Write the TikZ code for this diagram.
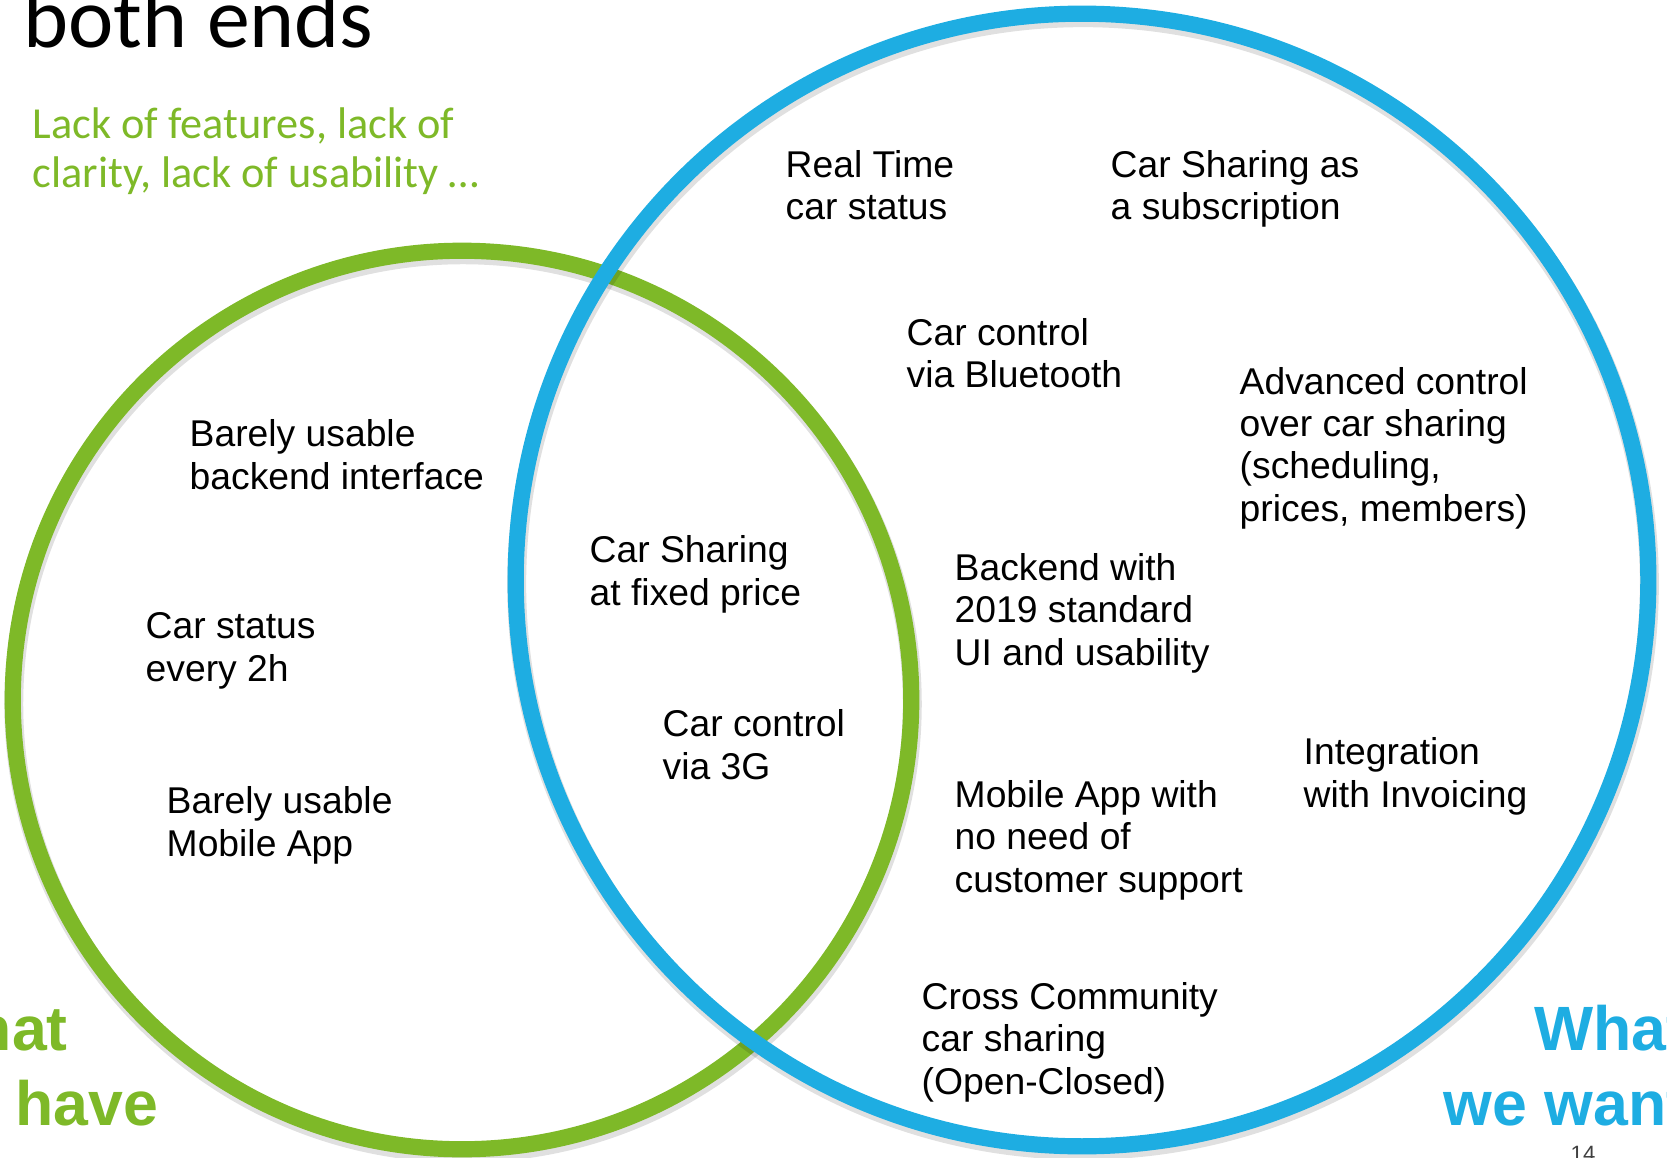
\documentclass[tikz,border=0pt]{standalone}
\usepackage{fontspec}
\setmainfont{Liberation Sans}
\newfontfamily\calibri{Carlito}
\usetikzlibrary{positioning}

\definecolor{havegreen}{RGB}{126,185,40}
\definecolor{wantblue}{RGB}{30,173,226}

% items are placed by the baseline of their last line
\tikzset{
    item/.style={anchor=base west, align=left, inner sep=0pt, font=\fontsize{10.6}{11.95}\selectfont},
    ring/.style={line width=4.6pt},
    ringshade/.style={line width=5.4pt, black, opacity=0.12},
    bigword/.style={anchor=base west, align=left, inner sep=0pt, font=\fontsize{17.8}{21.3}\selectfont\bfseries},
}

\begin{document}
\begin{tikzpicture}[x=0.01cm, y=-0.01cm]

    \useasboundingbox (0,0) rectangle (1667,1158);
    \clip (0,0) rectangle (1667,1158);

    \coordinate (have) at (462,700); % centre of green circle
    \coordinate (want) at (1082,580); % centre of blue circle

    % circles with a soft shadow
    \draw[ringshade] ([shift={(1,4)}]have) circle[radius=4.49cm];
    \draw[ring, havegreen] (have) circle[radius=4.49cm];
    \draw[ringshade] ([shift={(1,4)}]want) circle[radius=5.66cm];
    \draw[ring, wantblue] (want) circle[radius=5.66cm];

    % headings
    \node[anchor=base west, inner sep=0pt, font=\calibri\fontsize{24.4}{28}\selectfont] (ends) at (23,48) {both ends}; % title, cut at top
    \node[anchor=base west, align=left, inner sep=0pt, havegreen, font=\calibri\fontsize{12.6}{13.94}\selectfont] (lack) at (32,188) {Lack of features, lack of\\clarity, lack of usability …}; % green remark
    \node[bigword, havegreen] (whathave) at (-86,1125) {What\\we have}; % left label
    \node[bigword, anchor=base east, align=right, wantblue] (whatwant) at (1688,1125) {What\\we want}; % right label
    \node[anchor=north west, inner sep=0pt, font=\fontsize{6.3}{7}\selectfont, black!75] (page) at (1570,1146) {14}; % page number

    % only in what we have
    \node[item] (backendbad) at (189,489) {Barely usable\\backend interface};
    \node[item] (status2h) at (145,681) {Car status\\every 2h};
    \node[item] (appbad) at (166,856) {Barely usable\\Mobile App};

    % in both
    \node[item] (fixedprice) at (589,605) {Car Sharing\\at fixed price};
    \node[item] (control3g) at (662,779) {Car control\\via 3G};

    % only in what we want
    \node[item] (realtime) at (785,220) {Real Time\\car status};
    \node[item] (subscription) at (1110,220) {Car Sharing as\\a subscription};
    \node[item] (bluetooth) at (906,388) {Car control\\via Bluetooth};
    \node[item] (advanced) at (1239,521) {Advanced control\\over car sharing\\(scheduling,\\prices, members)};
    \node[item] (backend2019) at (954,665) {Backend with\\2019 standard\\UI and usability};
    \node[item] (invoicing) at (1303,807) {Integration\\with Invoicing};
    \node[item] (appgood) at (954,892) {Mobile App with\\no need of\\customer support};
    \node[item] (community) at (921,1094) {Cross Community\\car sharing\\(Open-Closed)};

\end{tikzpicture}
\end{document}
